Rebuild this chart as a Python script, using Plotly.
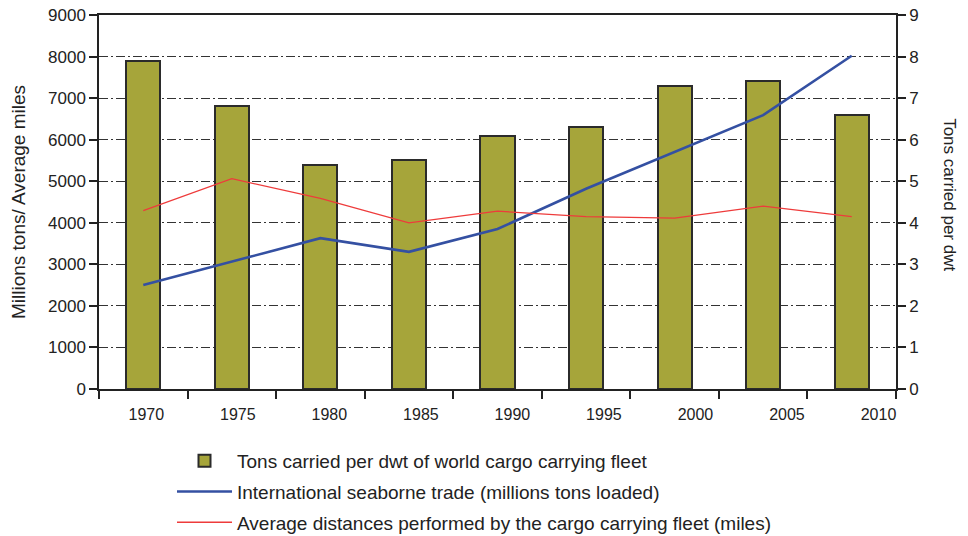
import plotly.graph_objects as go

# ---- data ----
tons_per_dwt = [7.9, 6.8, 5.4, 5.5, 6.1, 6.3, 7.3, 7.4, 6.6]            # bars, right axis
seaborne_trade = [2500, 3060, 3630, 3300, 3850, 4820, 5700, 6590, 8020]  # blue, left axis
avg_distance = [4290, 5060, 4590, 4000, 4280, 4150, 4110, 4400, 4150]    # red, left axis
year_labels = ["1970", "1975", "1980", "1985", "1990", "1995", "2000", "2005", "2010"]

names = [
    "Tons carried per dwt of world cargo carrying fleet",
    "International seaborne trade (millions tons loaded)",
    "Average distances performed by the cargo carrying fleet (miles)",
]

n = len(tons_per_dwt)
pos = list(range(n))
slot_edges = [i - 0.5 for i in range(n + 1)]

# layout geometry (figure pixels; the page adds an 8px body margin)
W, H = 960, 528
L, R, T, B = 91, 38, 7, 147
plot_w = W - L - R
plot_h = H - T - B
axis_w = 797                      # width of the framed chart area
dom_end = axis_w / plot_w
x2_max = -0.5 + n * plot_w / axis_w   # same scale as main x, extended to the right

# tick-label placement (labels sit slightly offset from the bar slots, as drawn)
label_first = 0.057
label_step = 1.0776
label_pos = [label_first + i * label_step for i in range(len(year_labels))]

FONT = "Liberation Sans, Arial, Helvetica, sans-serif"
DARK = "#222222"

fig = go.Figure()
fig.add_trace(go.Bar(
    x=pos, y=tons_per_dwt, name=names[0], width=0.385,
    marker=dict(color="#A6A53A", line=dict(color="#2b2b2b", width=2)),
    xaxis="x", yaxis="y", legendgroup="a",
))
fig.add_trace(go.Scatter(
    x=pos, y=seaborne_trade, name=names[1], mode="lines",
    line=dict(color="#3450A2", width=2.6),
    xaxis="x", yaxis="y2", legendgroup="b",
))
fig.add_trace(go.Scatter(
    x=pos, y=avg_distance, name=names[2], mode="lines",
    line=dict(color="#EE3B3B", width=1.3),
    xaxis="x", yaxis="y2", legendgroup="c",
))
# carrier for the year-label axis
fig.add_trace(go.Scatter(x=[], y=[], xaxis="x2", yaxis="y", showlegend=False, hoverinfo="skip"))

fig.update_layout(
    width=W, height=H,
    margin=dict(l=L, r=R, t=T, b=B, autoexpand=False),
    paper_bgcolor="white", plot_bgcolor="white",
    font=dict(family=FONT, size=16, color=DARK),
    showlegend=True,
    legend=dict(
        x=(164 - L) / plot_w, y=(T + plot_h - 434) / plot_h, xanchor="left", yanchor="top",
        traceorder="grouped", tracegroupgap=3,
        font=dict(size=19, color=DARK), itemwidth=55,
        bgcolor="rgba(0,0,0,0)",
    ),
    bargap=0,
    xaxis=dict(
        domain=[0, dom_end], range=[-0.5, n - 0.5],
        tickmode="array", tickvals=slot_edges, ticktext=[""] * len(slot_edges),
        ticks="outside", ticklen=8, tickwidth=1.5, tickcolor=DARK,
        showline=True, linecolor=DARK, linewidth=1.5, mirror=True,
        showgrid=False, zeroline=False, automargin=False,
    ),
    xaxis2=dict(
        overlaying="x", anchor="y", side="bottom",
        domain=[0, 1], range=[-0.5, x2_max],
        tickmode="array", tickvals=label_pos, ticktext=year_labels,
        ticks="outside", ticklen=11, tickcolor="rgba(0,0,0,0)",
        showline=False, showgrid=False, zeroline=False, automargin=False,
        tickfont=dict(size=16, color=DARK), ticklabeloverflow="allow",
    ),
    yaxis=dict(
        side="right", anchor="x", range=[0, 9], dtick=1, tick0=0,
        ticks="outside", ticklen=8, tickwidth=1.5, tickcolor=DARK,
        showline=True, linecolor=DARK, linewidth=1.5,
        showgrid=True, gridcolor="#333333", gridwidth=1,
        griddash="9px,3px,2px,3px",
        zeroline=False, automargin=False,
        tickfont=dict(size=17, color=DARK), ticklabeloverflow="allow",
    ),
    yaxis2=dict(
        overlaying="y", side="left", anchor="x", range=[0, 9000], dtick=1000, tick0=0,
        ticks="outside", ticklen=8, tickwidth=1.5, tickcolor=DARK,
        showline=True, linecolor=DARK, linewidth=1.5,
        showgrid=False, zeroline=False, automargin=False,
        tickfont=dict(size=17, color=DARK), ticklabeloverflow="allow",
        title=dict(text="Millions tons/ Average miles", font=dict(size=19, color=DARK), standoff=24),
    ),
    annotations=[dict(
        text="Tons carried per dwt", textangle=90,
        xref="paper", yref="paper", x=(942 - L) / plot_w, y=0.521,
        xanchor="center", yanchor="middle", showarrow=False,
        font=dict(size=17, color=DARK),
    )],
)

fig.write_html("out.html")
